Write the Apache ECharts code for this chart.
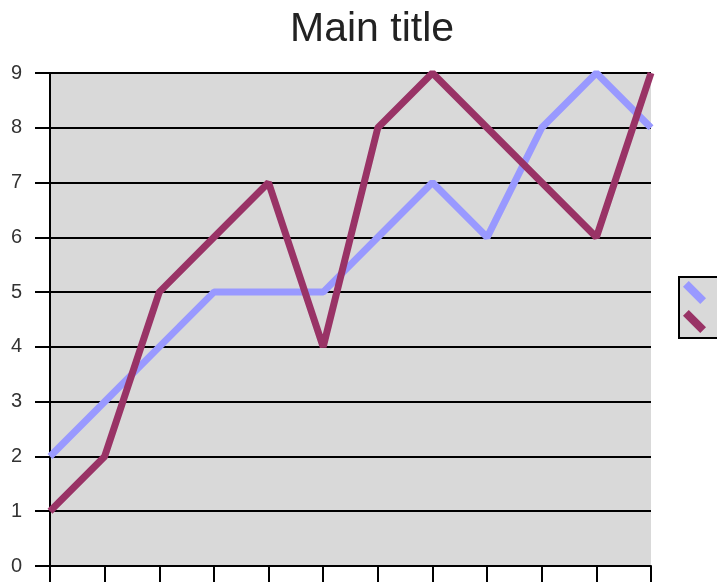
<!DOCTYPE html>
<html>
<head>
<meta charset="utf-8">
<script src="https://cdn.jsdelivr.net/npm/echarts@6/dist/echarts.min.js"></script>
<style>
  html, body { margin: 0; padding: 0; background: #fff; }
  #chart { width: 717px; height: 582px; }
</style>
</head>
<body>
<div id="chart"></div>
<script>
// chart values
const categories = ['1', '2', '3', '4', '5', '6', '7', '8', '9', '10', '11', '12']
const seriesNames = ['Column 1', 'Column 2']
const column1 = [2, 3, 4, 5, 5, 5, 6, 7, 6, 8, 9, 8]
const column2 = [1, 2, 5, 6, 7, 4, 8, 9, 8, 7, 6, 9]
const yTicks = { min: 0, max: 9, interval: 1 }

const colors = ['#9999ff', '#993366']
const black = '#000'
const font = 'Liberation Sans, Arial, sans-serif'

// diagonal band used as legend key
const legendIcon = 'path://M0,6 L6,0 L24,18 L18,24 Z'

const chart = echarts.init(document.getElementById('chart'))

chart.setOption({
  animation: false,
  title: {
    text: 'Main title',
    left: 285,
    top: 4,
    textStyle: { fontFamily: font, fontSize: 41, fontWeight: 'normal', color: '#222' },
  },
  legend: {
    orient: 'vertical',
    left: 679,
    top: 277,
    icon: legendIcon,
    itemWidth: 24,
    itemHeight: 23,
    itemGap: 6,
    padding: [4, 40, 5, 4],
    backgroundColor: '#d9d9d9',
    borderColor: black,
    borderWidth: 2,
    borderRadius: 0,
    textStyle: { fontFamily: font, fontSize: 16, color: '#333', padding: [0, 0, 0, 20] },
    data: seriesNames.map((name, i) => ({ name, itemStyle: { color: colors[i] } })),
  },
  grid: {
    left: 50,
    right: 66,
    top: 73,
    bottom: 16,
    show: true,
    backgroundColor: '#d9d9d9',
    borderWidth: 0,
  },
  xAxis: {
    type: 'category',
    data: categories,
    boundaryGap: false,
    axisLine: { lineStyle: { color: black, width: 2 } },
    axisTick: { length: 16, lineStyle: { color: black, width: 2 } },
    axisLabel: { show: false },
    splitLine: { show: false },
  },
  yAxis: {
    type: 'value',
    min: yTicks.min,
    max: yTicks.max,
    interval: yTicks.interval,
    axisLine: { show: true, lineStyle: { color: black, width: 2 } },
    axisTick: { show: true, length: 15, lineStyle: { color: black, width: 2 } },
    axisLabel: { margin: 28, fontFamily: font, fontSize: 20, color: '#333' },
    splitLine: { lineStyle: { color: black, width: 2 } },
  },
  series: [
    {
      name: seriesNames[0],
      type: 'line',
      data: column1,
      symbol: 'none',
      itemStyle: { color: colors[0] },
      lineStyle: { color: colors[0], width: 7 },
    },
    {
      name: seriesNames[1],
      type: 'line',
      data: column2,
      symbol: 'none',
      itemStyle: { color: colors[1] },
      lineStyle: { color: colors[1], width: 7 },
    },
  ],
})
</script>
</body>
</html>
